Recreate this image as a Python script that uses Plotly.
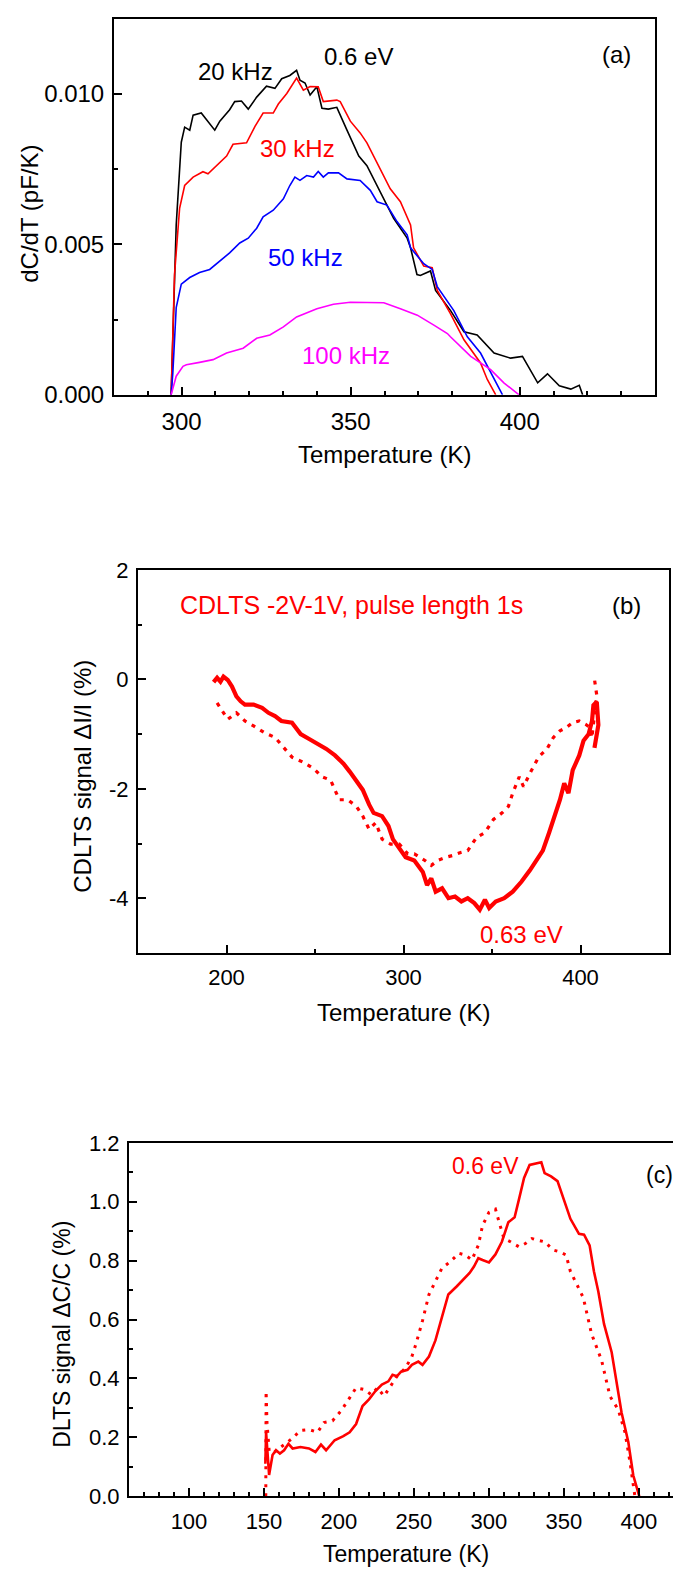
import plotly.graph_objects as go

W, H = 673, 1582
FONT = "Liberation Sans, Arial, sans-serif"

# ---------------- Panel (a): dC/dT vs T ----------------
t_20k = [296.9, 298.4, 299.9, 300.9, 302.4, 303.4, 305.8, 307.3, 309.8, 311.3, 314.2, 315.7, 317.7,
         319.7, 322.2, 325.1, 327.6, 329.6, 332.0, 334.0, 335.0, 336.5, 338.0, 340.0, 341.5, 343.4,
         345.9, 348.9, 352.4, 354.8, 357.8, 360.7, 362.7, 366.7, 367.7, 369.6, 370.6, 373.6, 375.1,
         379.5, 383.5, 387.4, 392.4, 397.3, 400.8, 405.3, 408.2, 411.7, 415.1, 417.6, 418.6]
v_20k = [0.0, 0.00565, 0.0084, 0.0089, 0.0088, 0.0093, 0.00937, 0.00915, 0.0088, 0.0091, 0.00948,
         0.00975, 0.00977, 0.0095, 0.0099, 0.01026, 0.01019, 0.01051, 0.01062, 0.01079, 0.01046,
         0.01037, 0.00997, 0.01024, 0.00953, 0.0095, 0.00956, 0.0088, 0.00794, 0.00762, 0.00696,
         0.0063, 0.00587, 0.00521, 0.00489, 0.0040, 0.00397, 0.00412, 0.00347, 0.00281, 0.0021,
         0.00199, 0.00139, 0.00122, 0.00128, 0.0004, 0.0007, 0.0003, 0.00019, 0.00032, 0.0]

t_30k = [296.9, 297.9, 299.4, 300.9, 303.4, 306.3, 307.8, 310.3, 313.3, 315.2, 319.2, 321.7, 324.1,
         327.1, 328.6, 331.1, 334.0, 336.0, 338.0, 340.4, 341.9, 345.9, 346.9, 349.9, 352.8, 354.8,
         357.8, 361.7, 364.7, 367.7, 368.6, 371.6, 374.1, 375.6, 379.5, 383.5, 388.4, 390.4, 392.9]
v_30k = [0.0, 0.0040, 0.0062, 0.00696, 0.00724, 0.00742, 0.00735, 0.00762, 0.00794, 0.00833, 0.00838,
         0.00893, 0.00937, 0.00937, 0.00967, 0.01002, 0.01053, 0.01013, 0.01025, 0.01024, 0.00975,
         0.0098, 0.00975, 0.0091, 0.00871, 0.00838, 0.00773, 0.00685, 0.00642, 0.00565, 0.00489,
         0.00428, 0.00423, 0.00347, 0.0027, 0.00183, 0.00106, 0.00051, 0.0]

t_50k = [296.9, 297.4, 298.4, 299.9, 302.4, 305.3, 308.3, 311.3, 314.2, 317.2, 319.7, 322.2, 324.1,
         327.1, 330.1, 332.0, 333.5, 335.0, 337.0, 339.0, 340.4, 341.9, 343.4, 346.4, 348.9, 352.8,
         355.8, 357.8, 360.7, 363.7, 366.7, 367.7, 371.6, 374.1, 375.6, 380.5, 384.5, 388.4, 391.4,
         394.9]
v_50k = [0.0, 0.00073, 0.0029, 0.00368, 0.0039, 0.00407, 0.00417, 0.00445, 0.00472, 0.00505, 0.00521,
         0.00554, 0.00592, 0.00614, 0.00652, 0.00696, 0.00724, 0.00713, 0.00729, 0.00724, 0.00743,
         0.00724, 0.00738, 0.00738, 0.00718, 0.00713, 0.0068, 0.00642, 0.00631, 0.00576, 0.00532,
         0.00489, 0.00436, 0.00417, 0.0036, 0.0028, 0.00193, 0.00139, 0.00073, 0.0]

t_100k = [296.9, 298.4, 300.4, 301.4, 305.3, 309.3, 313.3, 318.2, 322.2, 326.1, 330.1, 334.0, 340.0,
          344.9, 349.9, 354.8, 359.8, 364.7, 369.7, 374.6, 378.6, 379.5, 385.5, 391.4, 395.3, 399.8]
v_100k = [0.0, 0.00062, 0.00095, 0.0010, 0.00108, 0.00117, 0.00139, 0.00155, 0.00188, 0.00199,
          0.00226, 0.00259, 0.00286, 0.00301, 0.00308, 0.00306, 0.00306, 0.00286, 0.00265, 0.00232,
          0.00204, 0.00193, 0.00128, 0.00084, 0.0004, 0.0]

# ---------------- Panel (b): CDLTS signal ----------------
t_b_solid = [192.7, 194.7, 196.6, 198.3, 200.7, 203.1, 205.6, 208.0, 210.4, 215.3, 220.1, 223.7, 227.4,
             231.0, 237.0, 241.9, 246.7, 251.6, 256.4, 261.3, 266.1, 269.7, 273.4, 277.0, 280.6, 283.1,
             287.9, 291.5, 294.0, 297.6, 301.2, 306.1, 308.5, 310.9, 313.3, 315.7, 318.2, 321.8, 325.4,
             329.1, 332.7, 336.3, 340.0, 343.1, 346.0, 348.4, 352.1, 356.9, 361.7, 366.6, 371.4, 375.1,
             378.7, 382.3, 386.0, 388.4, 390.8, 393.2, 395.6, 399.3, 401.7, 404.6, 406.5, 407.3, 409.2,
             410.1, 407.9]
v_b_solid = [-0.05, 0.03, -0.04, 0.05, -0.01, -0.13, -0.31, -0.40, -0.46, -0.46, -0.52, -0.61, -0.67,
             -0.76, -0.79, -1.0, -1.09, -1.18, -1.27, -1.39, -1.54, -1.69, -1.87, -2.02, -2.29, -2.44,
             -2.50, -2.68, -2.92, -3.10, -3.25, -3.31, -3.43, -3.52, -3.76, -3.64, -3.88, -3.82, -4.0,
             -3.97, -4.06, -4.0, -4.09, -4.21, -4.03, -4.18, -4.06, -4.0, -3.88, -3.70, -3.49, -3.31,
             -3.13, -2.80, -2.47, -2.20, -1.90, -2.08, -1.66, -1.39, -1.12, -1.0, -0.76, -0.47, -0.41,
             -0.83, -1.25]

t_b_dot = [194.7, 198.3, 200.7, 205.6, 210.4, 215.3, 221.3, 227.4, 232.2, 237.0, 243.1, 249.2, 254.0,
           258.8, 263.7, 268.5, 273.4, 277.0, 280.6, 284.3, 287.9, 292.7, 297.6, 302.4, 306.1, 312.1,
           315.7, 319.4, 324.2, 327.8, 332.7, 336.3, 341.2, 346.0, 350.8, 355.7, 359.3, 361.7, 365.4,
           367.8, 371.4, 376.3, 381.1, 384.7, 388.4, 392.0, 395.6, 399.3, 402.9, 405.3, 406.4, 409.2,
           407.9]
v_b_dot = [-0.43, -0.61, -0.73, -0.61, -0.76, -0.85, -0.97, -1.06, -1.24, -1.42, -1.51, -1.63, -1.78,
           -1.84, -2.2, -2.2, -2.32, -2.5, -2.74, -2.62, -2.92, -3.01, -3.01, -3.19, -3.19, -3.31,
           -3.40, -3.31, -3.25, -3.22, -3.16, -3.13, -2.89, -2.80, -2.56, -2.44, -2.32, -2.08, -1.78,
           -1.96, -1.72, -1.42, -1.27, -1.06, -0.94, -0.88, -0.79, -0.76, -0.82, -0.88, -1.07, -0.29,
           0.0]

# ---------------- Panel (c): DLTS signal ----------------
t_c_solid = [150.9, 151.4, 153.4, 155.7, 158.0, 160.6, 163.4, 166.3, 169.1, 174.3, 180.0, 184.3, 188.0,
             191.4, 197.1, 202.9, 207.1, 211.4, 215.7, 220.0, 224.3, 228.6, 232.9, 235.7, 238.6, 241.4,
             245.7, 248.6, 252.9, 255.7, 260.0, 264.3, 268.6, 272.9, 278.6, 282.9, 287.1, 290.0, 292.9,
             295.7, 300.0, 304.3, 308.6, 312.9, 317.1, 320.0, 323.4, 327.1, 331.4, 334.9, 337.1, 341.4,
             345.7, 350.0, 354.3, 360.0, 363.4, 367.1, 370.0, 372.9, 376.7, 381.8, 385.1, 388.4, 392.9,
             396.2, 400.2]
v_c_solid = [0.11, 0.217, 0.072, 0.14, 0.156, 0.145, 0.156, 0.178, 0.162, 0.167, 0.162, 0.15, 0.175,
             0.156, 0.19, 0.204, 0.217, 0.245, 0.306, 0.329, 0.357, 0.379, 0.39, 0.412, 0.407, 0.423,
             0.429, 0.446, 0.457, 0.446, 0.474, 0.529, 0.607, 0.685, 0.713, 0.735, 0.758, 0.78, 0.808,
             0.802, 0.794, 0.821, 0.864, 0.93, 0.947, 1.008, 1.081, 1.125, 1.129, 1.134, 1.097, 1.086,
             1.07, 1.008, 0.942, 0.891, 0.888, 0.852, 0.763, 0.695, 0.585, 0.489, 0.384, 0.284, 0.184,
             0.071, 0.0]

t_c_dot = [151.2, 151.4, 152.0, 153.5, 157.0, 162.9, 168.6, 174.3, 180.0, 185.7, 190.0, 195.7, 201.4,
           207.1, 211.4, 217.1, 221.4, 225.7, 230.0, 234.3, 238.6, 244.3, 248.6, 251.4, 255.7, 260.0,
           264.3, 268.6, 274.3, 280.0, 284.3, 288.6, 292.9, 295.7, 300.0, 304.3, 307.1, 310.0, 314.3,
           320.0, 324.3, 328.6, 332.9, 337.1, 342.9, 347.1, 351.4, 354.3, 358.6, 362.9, 368.4, 375.1,
           380.7, 386.2, 390.7, 394.0, 397.3]
v_c_dot = [0.0, 0.357, 0.25, 0.15, 0.15, 0.173, 0.195, 0.223, 0.226, 0.217, 0.25, 0.256, 0.29,
           0.334, 0.368, 0.362, 0.345, 0.368, 0.34, 0.373, 0.407, 0.435, 0.474, 0.518, 0.596, 0.685,
           0.73, 0.774, 0.797, 0.825, 0.819, 0.802, 0.852, 0.919, 0.964, 0.975, 0.925, 0.875, 0.864,
           0.847, 0.858, 0.875, 0.869, 0.864, 0.836, 0.83, 0.819, 0.763, 0.719, 0.674, 0.551, 0.461,
           0.339, 0.294, 0.217, 0.117, 0.0]

# ---------------- Figure ----------------
def px_x(p):
    return p / W

def px_y(p):
    return 1 - p / H

fig = go.Figure()

fig.add_trace(go.Scatter(x=t_20k, y=v_20k, mode="lines", line=dict(color="#000000", width=1.6),
                         xaxis="x", yaxis="y", name="20 kHz"))
fig.add_trace(go.Scatter(x=t_30k, y=v_30k, mode="lines", line=dict(color="#ff0000", width=1.6),
                         xaxis="x", yaxis="y", name="30 kHz"))
fig.add_trace(go.Scatter(x=t_50k, y=v_50k, mode="lines", line=dict(color="#0000ff", width=1.6),
                         xaxis="x", yaxis="y", name="50 kHz"))
fig.add_trace(go.Scatter(x=t_100k, y=v_100k, mode="lines", line=dict(color="#ff00ff", width=1.6),
                         xaxis="x", yaxis="y", name="100 kHz"))

fig.add_trace(go.Scatter(x=t_b_dot, y=v_b_dot, mode="lines",
                         line=dict(color="#ff0000", width=3.2, dash="4px,6px"),
                         xaxis="x2", yaxis="y2", name="CDLTS dotted"))
fig.add_trace(go.Scatter(x=t_b_solid, y=v_b_solid, mode="lines",
                         line=dict(color="#ff0000", width=4.2),
                         xaxis="x2", yaxis="y2", name="CDLTS solid"))

fig.add_trace(go.Scatter(x=t_c_dot, y=v_c_dot, mode="lines",
                         line=dict(color="#ff0000", width=3, dash="3px,6px"),
                         xaxis="x3", yaxis="y3", name="DLTS dotted"))
fig.add_trace(go.Scatter(x=t_c_solid, y=v_c_solid, mode="lines",
                         line=dict(color="#ff0000", width=2.6),
                         xaxis="x3", yaxis="y3", name="DLTS solid"))

axis_common = dict(showgrid=False, zeroline=False, showline=True, linecolor="#000000", linewidth=2,
                   ticks="inside", ticklen=8, tickwidth=1.5, tickcolor="#000000")

fig.update_layout(
    width=W, height=H,
    margin=dict(l=0, r=0, t=0, b=0),
    paper_bgcolor="white", plot_bgcolor="white",
    showlegend=False,
    font=dict(family=FONT, color="#000000"),
    xaxis=dict(domain=[px_x(114), px_x(655)], range=[280, 440], anchor="y", mirror=True,
               tickmode="linear", tick0=300, dtick=50, tickfont=dict(size=24),
               minor=dict(tick0=280, dtick=10, ticks="inside", ticklen=4, tickcolor="#000000"),
               ticklabelstandoff=4, **axis_common),
    yaxis=dict(domain=[px_y(389), px_y(7)], range=[0, 0.0125], anchor="x", mirror=True,
               tickmode="linear", tick0=0, dtick=0.005, tickformat=".3f", tickfont=dict(size=24),
               minor=dict(tick0=0, dtick=0.0025, ticks="inside", ticklen=4, tickcolor="#000000"),
               ticklabelstandoff=3, **axis_common),
    xaxis2=dict(domain=[px_x(138), px_x(669)], range=[150, 450], anchor="y2", mirror=True,
                tickmode="linear", tick0=200, dtick=100, tickfont=dict(size=22),
                minor=dict(tick0=150, dtick=50, ticks="inside", ticklen=4, tickcolor="#000000"),
                ticklabelstandoff=4, **axis_common),
    yaxis2=dict(domain=[px_y(956), px_y(567)], range=[-5, 2], anchor="x2", mirror=True,
                tickmode="array", tickvals=[-4, -2, 0, 2], ticktext=["-4", "-2", "0", "2"],
                tickfont=dict(size=22),
                minor=dict(tick0=-5, dtick=1, ticks="inside", ticklen=4, tickcolor="#000000"),
                ticklabelstandoff=3, **axis_common),
    xaxis3=dict(domain=[px_x(129), 1.0], range=[60, 422.7], anchor="y3", mirror=True,
                tickmode="linear", tick0=100, dtick=50, tickfont=dict(size=22),
                minor=dict(tick0=60, dtick=10, ticks="inside", ticklen=4, tickcolor="#000000"),
                ticklabelstandoff=4, **axis_common),
    yaxis3=dict(domain=[px_y(1508), px_y(1149)], range=[0, 1.2], anchor="x3", mirror=False,
                tickmode="linear", tick0=0, dtick=0.2, tickformat=".1f", tickfont=dict(size=22),
                minor=dict(tick0=0, dtick=0.1, ticks="inside", ticklen=4, tickcolor="#000000"),
                ticklabelstandoff=3, **axis_common),
)

def note(text, x, y, size, color="#000000", angle=0, xanchor="center"):
    fig.add_annotation(text=text, x=px_x(x), y=px_y(y), xref="paper", yref="paper",
                       showarrow=False, xanchor=xanchor, yanchor="middle", textangle=angle,
                       font=dict(family=FONT, size=size, color=color))

# panel (a)
note("dC/dT (pF/K)", 30, 205, 24, angle=-90)
note("Temperature (K)", 384, 450, 24)
note("20 kHz", 236, 60, 24)
note("0.6 eV", 358, 45, 24)
note("30 kHz", 297, 139, 24, color="#ff0000")
note("50 kHz", 305, 249, 24, color="#0000ff")
note("100 kHz", 346, 349, 24, color="#ff00ff")
note("(a)", 616, 43, 24)

# panel (b)
note("CDLTS signal ΔI/I (%)", 83, 777, 24, angle=-90)
note("Temperature (K)", 403, 1017, 24)
note("CDLTS -2V-1V, pulse length 1s", 178, 603, 25, color="#ff0000", xanchor="left")
note("(b)", 626, 603, 24)
note("0.63 eV", 521, 937, 24, color="#ff0000")

# panel (c)
note("DLTS signal ΔC/C (%)", 62, 1344, 23, angle=-90)
note("Temperature (K)", 406, 1567, 23)
note("0.6 eV", 485, 1173, 23, color="#ff0000")
note("(c)", 659, 1182, 23)

fig.write_html("out.html")
